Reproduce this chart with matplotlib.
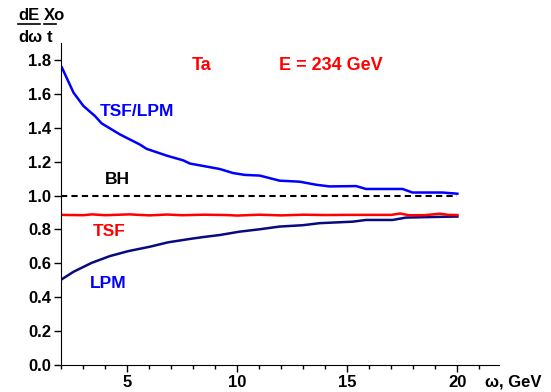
"""Radiation spectrum ratio plot for Ta, E = 234 GeV."""

import matplotlib
matplotlib.use("Agg")
import matplotlib.pyplot as plt
from matplotlib.lines import Line2D
from matplotlib.ticker import MultipleLocator

# TSF/LPM ratio
ratio_x = [2.03, 2.56, 3.01, 3.54, 3.84, 4.67, 5.58, 5.88, 6.79, 7.54, 7.85, 9.2,
           9.81, 10.34, 11.02, 11.62, 11.92, 12.83, 13.58, 14.19, 15.40, 15.85,
           17.51, 17.96, 19.32, 20.0]
ratio_y = [1.757, 1.608, 1.529, 1.469, 1.426, 1.361, 1.301, 1.276, 1.236, 1.208, 1.189,
           1.157, 1.133, 1.122, 1.118, 1.098, 1.088, 1.082, 1.064, 1.054, 1.056, 1.039,
           1.039, 1.018, 1.018, 1.011]

# LPM
lpm_x = [2.03, 2.56, 3.39, 4.22, 5.05, 6.03, 6.86, 7.85, 8.45, 9.2, 10.11, 11.02,
         11.92, 12.98, 13.74, 15.25, 15.85, 17.06, 17.66, 19.02, 20.0]
lpm_y = [0.506, 0.55, 0.603, 0.643, 0.672, 0.698, 0.724, 0.744, 0.755, 0.767, 0.787,
         0.801, 0.817, 0.825, 0.837, 0.846, 0.856, 0.856, 0.870, 0.874, 0.876]

# TSF
tsf_x = [2.0, 3.0, 3.4, 4.0, 5.1, 6.0, 6.8, 7.5, 8.5, 9.5, 10.0, 11.0, 12.0, 13.0,
         14.0, 15.0, 16.0, 17.0, 17.4, 17.8, 18.5, 19.2, 19.6, 20.0]
tsf_y = [0.886, 0.884, 0.889, 0.884, 0.889, 0.883, 0.888, 0.884, 0.887, 0.885, 0.882,
         0.887, 0.883, 0.887, 0.885, 0.886, 0.886, 0.886, 0.894, 0.884, 0.884, 0.893,
         0.886, 0.885]

# Bethe-Heitler reference
bh_x = [2.0, 20.0]
bh_y = [1.0, 1.0]

BLUE = "#0000ff"
NAVY = "#0a0a80"
RED = "#ff0000"

plt.rcParams["font.family"] = ["Liberation Sans", "DejaVu Sans"]
plt.rcParams["font.weight"] = "bold"

fig = plt.figure(figsize=(5.51, 3.92), dpi=100)
ax = fig.add_axes([0.111, 0.069, 0.795, 0.821])

ax.plot(ratio_x, ratio_y, color=BLUE, lw=1.8)
ax.plot(lpm_x, lpm_y, color=NAVY, lw=1.8)
ax.plot(tsf_x, tsf_y, color=RED, lw=1.8)
ax.plot(bh_x, bh_y, color="black", lw=1.5, ls=(0, (3, 2)))

ax.set_xlim(2, 21.9)
ax.set_ylim(0, 1.9)
ax.xaxis.set_major_locator(MultipleLocator(5))
ax.xaxis.set_minor_locator(MultipleLocator(1))
ax.yaxis.set_major_locator(MultipleLocator(0.2))
ax.yaxis.set_major_formatter(plt.FormatStrFormatter("%.1f"))
for s in ("top", "right"):
    ax.spines[s].set_visible(False)
ax.tick_params(which="major", direction="out", length=5, width=1, labelsize=12, pad=2)
ax.tick_params(which="minor", direction="out", length=3, width=1)
for lab in ax.get_xticklabels() + ax.get_yticklabels():
    lab.set_fontweight("bold")


def put(px, py, s, color, size=12.5):
    fig.text(px / 551, 1 - py / 392, s, color=color, fontsize=size,
             fontweight="bold", ha="center", va="center")


put(137, 111, "TSF/LPM", BLUE)
put(202, 65, "Ta", RED, 13)
put(331, 65, "E = 234 GeV", RED, 13)
put(117, 180, "BH", "black")
put(109, 232, "TSF", RED)
put(108, 283, "LPM", BLUE)
put(513, 382, "ω, GeV", "black", 12)

# y label as a fraction: dE/dω · Xo/t
put(29, 16, "dE", "black", 12)
put(54, 16, "Xo", "black", 12)
put(30, 37, "dω", "black", 12)
put(50, 37, "t", "black", 12)
fig.add_artist(Line2D([18 / 551, 40 / 551], [1 - 24 / 392] * 2, color="black", lw=1.2))
fig.add_artist(Line2D([44 / 551, 56 / 551], [1 - 24 / 392] * 2, color="black", lw=1.2))

fig.savefig("out.png", dpi=100)
